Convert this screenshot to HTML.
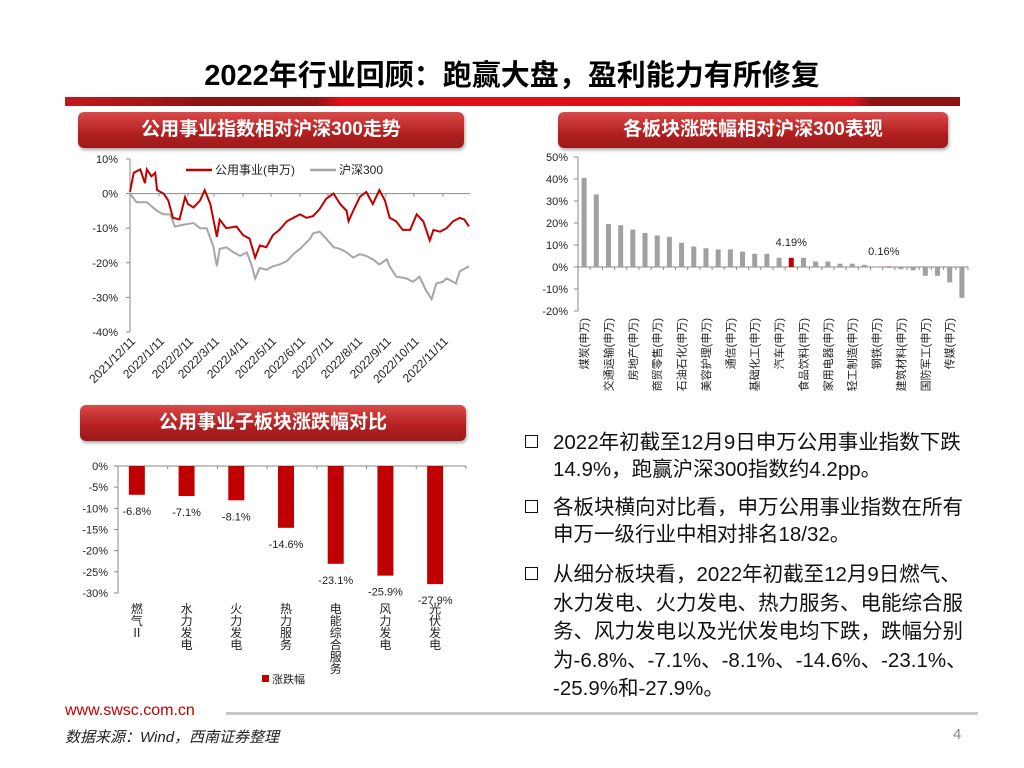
<!DOCTYPE html>
<html><head><meta charset="utf-8">
<style>
body{margin:0;width:1024px;height:768px;background:#fff;overflow:hidden;font-family:"Liberation Sans","Noto Sans CJK SC",sans-serif;position:relative}
.pill{position:absolute;height:36px;border-radius:6px;background:linear-gradient(#d94a48,#b21f20 60%,#9c1a1a);box-shadow:1px 2px 3px rgba(0,0,0,.35);color:#fff;font-weight:bold;font-size:19px;text-align:center;line-height:36px}
.bul{position:absolute;left:525px;font-size:20.5px;color:#111;line-height:27px;white-space:nowrap}
.bul .b{position:absolute;left:0;top:6px;width:13px;height:13px;border:1.5px solid #111;box-sizing:border-box}
.bul .t{margin-left:28px}
</style></head><body>
<div style="position:absolute;left:0;width:1024px;top:52px;text-align:center;font-size:29px;font-weight:bold;color:#000">2022年行业回顾：跑赢大盘，盈利能力有所修复</div>
<div style="position:absolute;left:65px;top:97px;width:895px;height:9px;background:linear-gradient(90deg,#c3181c 0%,#8e1414 15%,#8e1414 28%,#e0101a 31%,#e0101a 88%,#8e1414 90%)"></div>
<div class="pill" style="left:78px;top:112px;width:386px">公用事业指数相对沪深300走势</div>
<div class="pill" style="left:558px;top:112px;width:390px">各板块涨跌幅相对沪深300表现</div>
<div class="pill" style="left:80px;top:405px;width:386px">公用事业子板块涨跌幅对比</div>

<svg id="c1" width="1024" height="768" style="position:absolute;left:0;top:0" font-family="Liberation Sans, Noto Sans CJK SC, sans-serif"></svg>

<div class="bul" style="top:429px"><span class="b"></span><div class="t">2022年初截至12月9日申万公用事业指数下跌<br>14.9%，跑赢沪深300指数约4.2pp。</div></div>
<div class="bul" style="top:494px"><span class="b"></span><div class="t">各板块横向对比看，申万公用事业指数在所有<br>申万一级行业中相对排名18/32。</div></div>
<div class="bul" style="top:561px"><span class="b"></span><div class="t" style="line-height:28.5px">从细分板块看，2022年初截至12月9日燃气、<br>水力发电、火力发电、热力服务、电能综合服<br>务、风力发电以及光伏发电均下跌，跌幅分别<br>为-6.8%、-7.1%、-8.1%、-14.6%、-23.1%、<br>-25.9%和-27.9%。</div></div>

<div style="position:absolute;left:65px;top:702px;font-size:16px;color:#c00000">www.swsc.com.cn</div>
<div style="position:absolute;left:226px;top:712px;width:752px;height:3px;background:#c8c8c8"></div>
<div style="position:absolute;left:65px;top:726px;font-size:15px;font-style:italic;color:#222">数据来源：Wind，西南证券整理</div>
<div style="position:absolute;left:953px;top:726px;font-size:15px;color:#888">4</div>

<script>
// ---- chart 1: line chart data ----
const redDays=[0,4,11,16,18,23,27,29,36,41,46,53,59,62,68,75,80,86,93,96,103,114,121,128,134,139,146,153,160,168,175,182,189,196,203,210,218,225,232,234,239,246,253,260,267,273,278,285,292,300,307,314,321,325,332,339,346,353,358,363];
const redVals=[0.5,6,7,3,7,5,6,1,0,-2,-7,-7.5,-1,-3,-4,-2,1,-3,-12.5,-7.5,-10,-9.5,-12,-13,-18.5,-15,-15.5,-12,-10.5,-8,-7,-6,-7,-6.5,-4.5,-1.5,0,-3,-5,-8,-5,-1,0.5,-3,1,-2,-7,-8,-10.5,-10.5,-6,-8,-13.5,-10.5,-11,-10,-8,-7,-7.5,-9.5];
const grayDays=[0,7,18,29,36,43,48,57,68,75,82,89,93,96,103,111,118,125,130,134,139,146,153,160,168,175,182,193,196,203,210,218,225,232,239,246,253,260,267,275,278,285,296,303,310,317,323,328,335,339,346,349,353,363];
const grayVals=[0,-2.5,-2.5,-5,-6,-6,-9.5,-9,-8.5,-10,-10,-15,-21,-16,-15.5,-17,-18,-17,-20.5,-24.5,-21.5,-22,-21,-20.5,-19.5,-17.5,-16,-13,-11.5,-11,-13,-15.5,-16,-17,-18.5,-17.5,-18,-19,-20.5,-19,-21,-24,-24.5,-25.5,-24,-28,-30.5,-26,-25.5,-24.5,-25.5,-26,-22.5,-21];
const yTicks1=[10,0,-10,-20,-30,-40];
const dateLabels=["2021/12/11","2022/1/11","2022/2/11","2022/3/11","2022/4/11","2022/5/11","2022/6/11","2022/7/11","2022/8/11","2022/9/11","2022/10/11","2022/11/11"];
const dateDays=[0,31,62,90,121,151,182,212,243,274,304,335];
// ---- chart 2: sector bars ----
const sectorVals=[40.5,33,19.5,19,17,15.5,14.3,13.7,11,9.3,8.5,8,8,7,6,6,4.2,4.19,4.2,2.5,2.5,1.5,1.5,1,0.16,0.16,-1,-1.5,-4,-4,-7,-14];
const highlightIdx=[17,25];
const sectorLabels=["煤炭(申万)","交通运输(申万)","房地产(申万)","商贸零售(申万)","石油石化(申万)","美容护理(申万)","通信(申万)","基础化工(申万)","汽车(申万)","食品饮料(申万)","家用电器(申万)","轻工制造(申万)","钢铁(申万)","建筑材料(申万)","国防军工(申万)","传媒(申万)"];
const yTicks2=[50,40,30,20,10,0,-10,-20];
// ---- chart 3: subsector bars ----
const subCats=["燃气Ⅱ","水力发电","火力发电","热力服务","电能综合服务","风力发电","光伏发电"];
const subVals=[-6.8,-7.1,-8.1,-14.6,-23.1,-25.9,-27.9];
const yTicks3=[0,-5,-10,-15,-20,-25,-30];

const svg=document.getElementById('c1');
const NS='http://www.w3.org/2000/svg';
function mk(tag,attrs,parent,text){const e=document.createElementNS(NS,tag);for(const k in attrs)e.setAttribute(k,attrs[k]);if(text!==undefined)e.textContent=text;(parent||svg).appendChild(e);return e;}

const x1=d=>130+d*(469-130)/363;
const y1=v=>193.6-v*3.46;
let g=mk('g',{});


mk('line',{x1:130,y1:y1(10),x2:130,y2:y1(-40),stroke:'#888'},g);
mk('line',{x1:130,y1:y1(0),x2:470,y2:y1(0),stroke:'#888'},g);
yTicks1.forEach(t=>{mk('line',{x1:126,x2:130,y1:y1(t),y2:y1(t),stroke:'#888'},g);
 const tx=mk('text',{x:118,y:y1(t)+4,'text-anchor':'end','font-size':11,fill:'#222'},g,t+'%');
 
 });
dateDays.forEach((d,i)=>{mk('line',{x1:x1(d),x2:x1(d),y1:y1(0),y2:y1(0)+3,stroke:'#888'},g);
 const tx=mk('text',{x:x1(d)+6,y:342,'text-anchor':'end','font-size':12,fill:'#222',transform:`rotate(-45 ${x1(d)+6} 342)`},g,dateLabels[i]);
 
 });
function line(days,vals,col,name){const p=mk('polyline',{points:days.map((d,i)=>x1(d)+','+y1(vals[i])).join(' '),fill:'none',stroke:col,'stroke-width':2},g);
 
 }
line(grayDays,grayVals,'#a6a6a6','hs300-line');
line(redDays,redVals,'#c00000','utilities-line');
mk('line',{x1:186,x2:212,y1:170,y2:170,stroke:'#c00000','stroke-width':2.5},g);
mk('text',{x:215,y:174,'font-size':12,fill:'#222'},g,'公用事业(申万)');
mk('line',{x1:310,x2:336,y1:170,y2:170,stroke:'#a6a6a6','stroke-width':2.5},g);
const lg=mk('text',{x:339,y:174,'font-size':12,fill:'#222'},g,'沪深300');



const g2=mk('g',{});


const y2=v=>267-v*2.2;
const step=(968-578)/sectorVals.length;
const x2=i=>578+step*(i+0.5);
mk('line',{x1:578,x2:578,y1:y2(50),y2:y2(-20),stroke:'#888'},g2);
mk('line',{x1:578,x2:968,y1:y2(0),y2:y2(0),stroke:'#888'},g2);
yTicks2.forEach(t=>{mk('line',{x1:574,x2:578,y1:y2(t),y2:y2(t),stroke:'#888'},g2);
 mk('text',{x:568,y:y2(t)+4,'text-anchor':'end','font-size':11,fill:'#222'},g2,t+'%');});
sectorVals.forEach((v,i)=>{mk('line',{x1:578+step*(i+1),x2:578+step*(i+1),y1:y2(0),y2:y2(0)+3,stroke:'#888'},g2);
 const r=mk('rect',{x:x2(i)-2.5,width:5,y:Math.min(y2(v),y2(0)),height:Math.max(Math.abs(y2(v)-y2(0)),0.6),fill:highlightIdx.includes(i)?'#c00000':'#a0a0a0'},g2);
 
 });
sectorLabels.forEach((l,k)=>{const xx=x2(k*2)+4;
 const tx=mk('text',{x:xx,y:318,'text-anchor':'end','font-size':11,fill:'#222',transform:`rotate(-90 ${xx} 318)`},g2,l);
 
 });
mk('text',{x:x2(17),y:246,'text-anchor':'middle','font-size':11,fill:'#222'},g2,sectorVals[17].toFixed(2)+'%');
mk('text',{x:x2(25)-5,y:255,'text-anchor':'middle','font-size':11,fill:'#222'},g2,sectorVals[25].toFixed(2)+'%');

const g3=mk('g',{});


const y3=v=>466+(-v)*127/30;
const st3=(466-118)/subCats.length;
const x3=i=>118+st3*(i+0.5)-6;
mk('line',{x1:118,x2:118,y1:y3(0),y2:y3(-30),stroke:'#888'},g3);
mk('line',{x1:118,x2:466,y1:y3(0),y2:y3(0),stroke:'#888'},g3);
yTicks3.forEach(t=>{mk('line',{x1:114,x2:118,y1:y3(t),y2:y3(t),stroke:'#888'},g3);
 mk('text',{x:108,y:y3(t)+4,'text-anchor':'end','font-size':11,fill:'#222'},g3,t+'%');});
subVals.forEach((v,i)=>{mk('line',{x1:118+st3*(i+1),x2:118+st3*(i+1),y1:y3(0),y2:y3(0)+3,stroke:'#888'},g3);
 const r=mk('rect',{x:x3(i)-8,width:16,y:y3(0),height:y3(v)-y3(0),fill:'#c00000'},g3);
 
 
 mk('text',{x:x3(i),y:y3(v)+20,'text-anchor':'middle','font-size':11,fill:'#222'},g3,v.toFixed(1)+'%');
 [...subCats[i]].forEach((ch,j)=>{mk('text',{x:x3(i),y:613+j*12,'text-anchor':'middle','font-size':12,fill:'#222'},g3,ch);});});
mk('rect',{x:262,y:675,width:7,height:7,fill:'#c00000'},g3);
mk('text',{x:272,y:683,'font-size':11,fill:'#222'},g3,'涨跌幅');
</script>
</body></html>
